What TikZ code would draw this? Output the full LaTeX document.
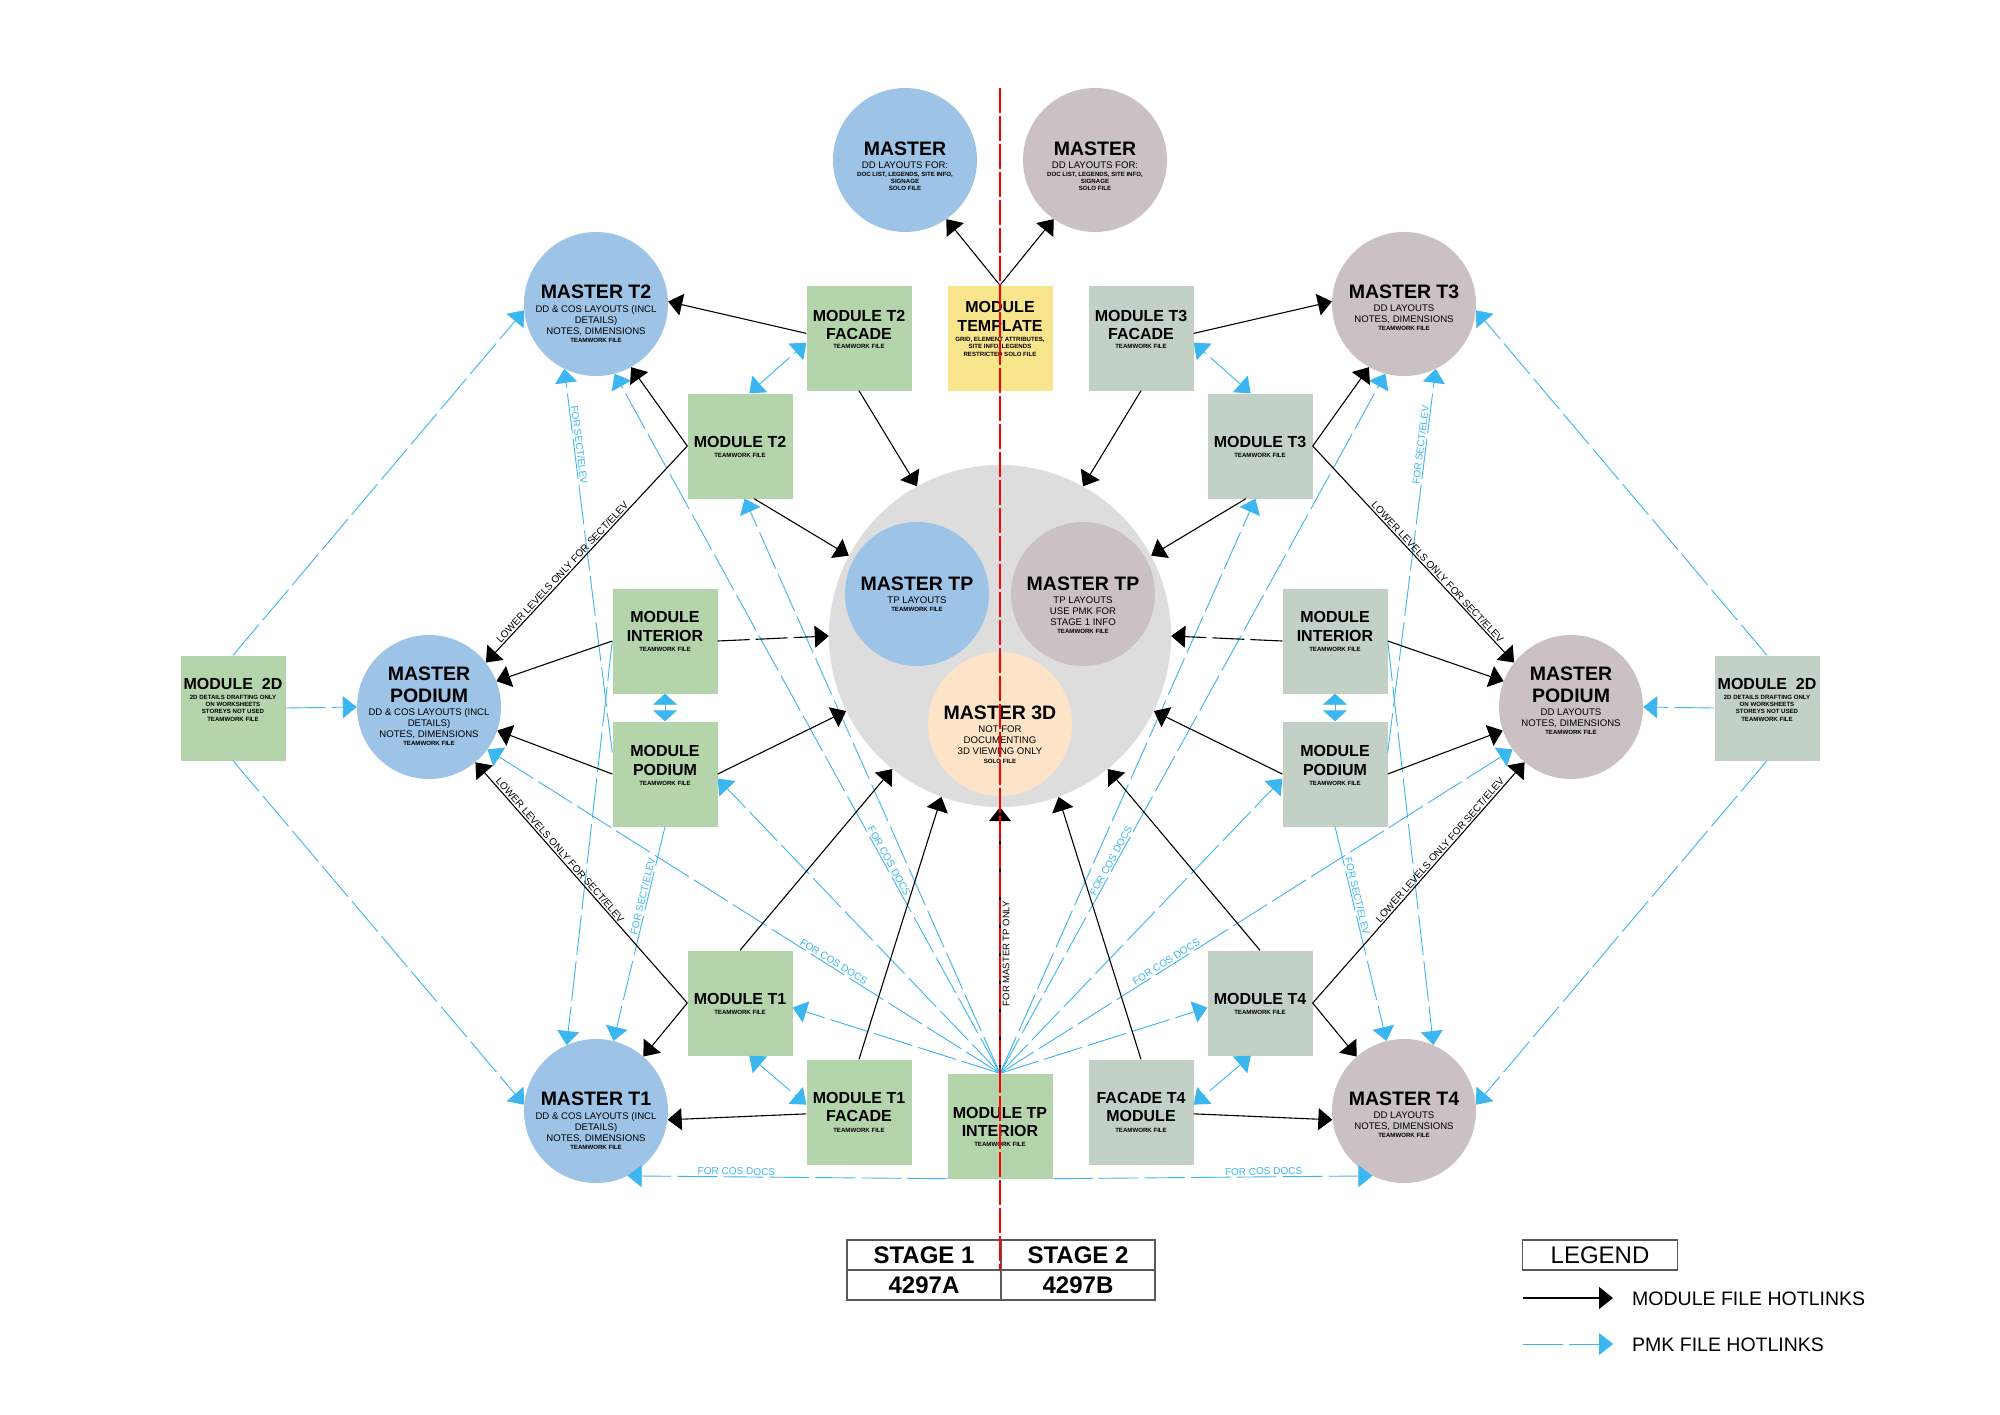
\documentclass[tikz,border=0pt]{standalone}
\usepackage{fontspec}
\setmainfont{Liberation Sans}
\usetikzlibrary{arrows.meta,calc}
\definecolor{cBlue}{RGB}{157,195,230}
\definecolor{cMauve}{RGB}{203,193,197}
\definecolor{cGreen}{RGB}{180,212,172}
\definecolor{cGG}{RGB}{195,208,197}
\definecolor{cYel}{RGB}{249,229,140}
\definecolor{cPeach}{RGB}{253,228,200}
\definecolor{cGray}{RGB}{221,221,221}
\definecolor{pmk}{RGB}{59,182,240}
\newcommand\ptxt[5]{\node[#2] (#1) at ($(#3)+(0,#4)$) {#5};}
\begin{document}
\begin{tikzpicture}[x=1pt,y=-1pt,
  >={Triangle[length=14pt,width=22pt]},
  circ/.style={circle,minimum size=144pt,inner sep=0pt,draw=none},
  boxn/.style={rectangle,minimum width=105pt,minimum height=105pt,inner sep=0pt,draw=none},
  ttl/.style={font=\bfseries\fontsize{19.5}{20}\selectfont,anchor=base,yshift=-7pt,inner sep=0pt,text height=14pt,text depth=0pt},
  subt/.style={font=\fontsize{9.6}{10.5}\selectfont,anchor=base,yshift=-3.4pt,inner sep=0pt,text height=7pt,text depth=1pt},
  tny/.style={font=\bfseries\fontsize{6.1}{6.8}\selectfont,anchor=base,yshift=-2.2pt,inner sep=0pt,text height=4.5pt,text depth=0.3pt},
  btl/.style={font=\bfseries\fontsize{16}{17}\selectfont,anchor=base,yshift=-5.7pt,inner sep=0pt,text height=11.6pt,text depth=0pt},
  blk/.style={draw=black,line width=1.1pt,->},
  blkd/.style={blk,dash pattern=on 32pt off 6pt},
  blu/.style={draw=pmk,line width=0.9pt,dash pattern=on 40pt off 6pt,->},
  bluu/.style={blu,<->},
  bluv/.style={draw=pmk,line width=0.9pt,{Triangle[length=11pt,width=24pt]}-{Triangle[length=11pt,width=24pt]}},
  lbl/.style={font=\fontsize{10}{11}\selectfont,inner sep=1.5pt,sloped,text height=7.2pt,text depth=0pt},
  lblb/.style={lbl,text=pmk},
  cell/.style={draw=black!65,line width=1.2pt,minimum width=154pt,minimum height=30pt,inner sep=0pt,font=\bfseries\fontsize{24}{24}\selectfont},
  legt/.style={font=\fontsize{19.5}{20}\selectfont,anchor=base west,yshift=-7pt,inner sep=0pt}
]
\fill[white] (0,0) rectangle (2000,1414);
\useasboundingbox (0,0) rectangle (2000,1414);

% ---------- circles ----------
\node[circ,fill=cBlue]  (mL)  at (905,160) {};
\node[circ,fill=cMauve] (mR)  at (1095,160) {};
\node[circ,fill=cBlue]  (mT2) at (596,304) {};
\node[circ,fill=cMauve] (mT3) at (1404,304) {};
\node[circ,fill=cBlue]  (mPL) at (429,707) {};
\node[circ,fill=cMauve] (mPR) at (1571,707) {};
\node[circ,fill=cBlue]  (mT1) at (596,1111) {};
\node[circ,fill=cMauve] (mT4) at (1404,1111) {};
\node[circle,minimum size=342pt,inner sep=0pt,fill=cGray] (gc) at (1000,636) {};
\node[circ,fill=cBlue]  (mTPL) at (917,594) {};
\node[circ,fill=cMauve] (mTPR) at (1083,594) {};
\node[circ,fill=cPeach] (m3D)  at (1000,724) {};

% ---------- boxes ----------
\node[boxn,fill=cYel]   (tmpl) at (1000,338) {};
\node[boxn,fill=cGreen] (fT2)  at (859,338) {};
\node[boxn,fill=cGG]    (fT3)  at (1141,338) {};
\node[boxn,fill=cGreen] (T2)   at (740,446) {};
\node[boxn,fill=cGG]    (T3)   at (1260,446) {};
\node[boxn,fill=cGreen] (intL) at (665,641) {};
\node[boxn,fill=cGG]    (intR) at (1335,641) {};
\node[boxn,fill=cGreen] (podL) at (665,774) {};
\node[boxn,fill=cGG]    (podR) at (1335,774) {};
\node[boxn,fill=cGreen] (d2L)  at (233,708) {};
\node[boxn,fill=cGG]    (d2R)  at (1767,708) {};
\node[boxn,fill=cGreen] (T1)   at (740,1003) {};
\node[boxn,fill=cGG]    (T4)   at (1260,1003) {};
\node[boxn,fill=cGreen] (fT1)  at (859,1112) {};
\node[boxn,fill=cGG]    (fT4)  at (1141,1112) {};
\node[boxn,fill=cGreen] (tpi)  at (1000,1126) {};

% ---------- texts in circles ----------
\ptxt{mLa}{ttl}{mL}{-12}{MASTER}
\ptxt{mLb}{subt}{mL}{5}{DD LAYOUTS FOR:}
\ptxt{mLc}{tny}{mL}{14}{DOC LIST, LEGENDS, SITE INFO,}
\ptxt{mLd}{tny}{mL}{21.2}{SIGNAGE}
\ptxt{mLe}{tny}{mL}{28.6}{SOLO FILE}
\ptxt{mRa}{ttl}{mR}{-12}{MASTER}
\ptxt{mRb}{subt}{mR}{5}{DD LAYOUTS FOR:}
\ptxt{mRc}{tny}{mR}{14}{DOC LIST, LEGENDS, SITE INFO,}
\ptxt{mRd}{tny}{mR}{21.2}{SIGNAGE}
\ptxt{mRe}{tny}{mR}{28.6}{SOLO FILE}

\ptxt{mT2a}{ttl}{mT2}{-13}{MASTER T2}
\ptxt{mT2b}{subt}{mT2}{5}{DD \& COS LAYOUTS (INCL}
\ptxt{mT2c}{subt}{mT2}{16}{DETAILS)}
\ptxt{mT2d}{subt}{mT2}{27}{NOTES, DIMENSIONS}
\ptxt{mT2e}{tny}{mT2}{36}{TEAMWORK FILE}
\ptxt{mT1a}{ttl}{mT1}{-13}{MASTER T1}
\ptxt{mT1b}{subt}{mT1}{5}{DD \& COS LAYOUTS (INCL}
\ptxt{mT1c}{subt}{mT1}{16}{DETAILS)}
\ptxt{mT1d}{subt}{mT1}{27}{NOTES, DIMENSIONS}
\ptxt{mT1e}{tny}{mT1}{36}{TEAMWORK FILE}

\ptxt{mT3a}{ttl}{mT3}{-13}{MASTER T3}
\ptxt{mT3b}{subt}{mT3}{4}{DD LAYOUTS}
\ptxt{mT3c}{subt}{mT3}{15}{NOTES, DIMENSIONS}
\ptxt{mT3d}{tny}{mT3}{24}{TEAMWORK FILE}
\ptxt{mT4a}{ttl}{mT4}{-13}{MASTER T4}
\ptxt{mT4b}{subt}{mT4}{4}{DD LAYOUTS}
\ptxt{mT4c}{subt}{mT4}{15}{NOTES, DIMENSIONS}
\ptxt{mT4d}{tny}{mT4}{24}{TEAMWORK FILE}

\ptxt{mPLa}{ttl}{mPL}{-34}{MASTER}
\ptxt{mPLb}{ttl}{mPL}{-12}{PODIUM}
\ptxt{mPLc}{subt}{mPL}{5}{DD \& COS LAYOUTS (INCL}
\ptxt{mPLd}{subt}{mPL}{16}{DETAILS)}
\ptxt{mPLe}{subt}{mPL}{27.2}{NOTES, DIMENSIONS}
\ptxt{mPLf}{tny}{mPL}{36.5}{TEAMWORK FILE}
\ptxt{mPRa}{ttl}{mPR}{-34}{MASTER}
\ptxt{mPRb}{ttl}{mPR}{-12}{PODIUM}
\ptxt{mPRc}{subt}{mPR}{5}{DD LAYOUTS}
\ptxt{mPRd}{subt}{mPR}{16}{NOTES, DIMENSIONS}
\ptxt{mPRe}{tny}{mPR}{25.2}{TEAMWORK FILE}

\ptxt{mTPLa}{ttl}{mTPL}{-11}{MASTER TP}
\ptxt{mTPLb}{subt}{mTPL}{6}{TP LAYOUTS}
\ptxt{mTPLc}{tny}{mTPL}{15.2}{TEAMWORK FILE}
\ptxt{mTPRa}{ttl}{mTPR}{-11}{MASTER TP}
\ptxt{mTPRb}{subt}{mTPR}{6}{TP LAYOUTS}
\ptxt{mTPRc}{subt}{mTPR}{17}{USE PMK FOR}
\ptxt{mTPRd}{subt}{mTPR}{28}{STAGE 1 INFO}
\ptxt{mTPRe}{tny}{mTPR}{37.5}{TEAMWORK FILE}
\ptxt{m3Da}{ttl}{m3D}{-12}{MASTER 3D}
\ptxt{m3Db}{subt}{m3D}{5}{NOT FOR}
\ptxt{m3Dc}{subt}{m3D}{16}{DOCUMENTING}
\ptxt{m3Dd}{subt}{m3D}{27.2}{3D VIEWING ONLY}
\ptxt{m3De}{tny}{m3D}{36.8}{SOLO FILE}

% ---------- texts in boxes ----------
\ptxt{tmpla}{btl}{tmpl}{-31}{MODULE}
\ptxt{tmplb}{btl}{tmpl}{-12}{TEMPLATE}
\ptxt{tmplc}{tny}{tmpl}{1.2}{GRID, ELEMENT ATTRIBUTES,}
\ptxt{tmpld}{tny}{tmpl}{8.6}{SITE INFO, LEGENDS}
\ptxt{tmple}{tny}{tmpl}{16}{RESTRICTED SOLO FILE}
\ptxt{fT2a}{btl}{fT2}{-22.5}{MODULE T2}
\ptxt{fT2b}{btl}{fT2}{-4}{FACADE}
\ptxt{fT2c}{tny}{fT2}{8.6}{TEAMWORK FILE}
\ptxt{fT3a}{btl}{fT3}{-22.5}{MODULE T3}
\ptxt{fT3b}{btl}{fT3}{-4}{FACADE}
\ptxt{fT3c}{tny}{fT3}{8.6}{TEAMWORK FILE}
\ptxt{T2a}{btl}{T2}{-4}{MODULE T2}
\ptxt{T2b}{tny}{T2}{9}{TEAMWORK FILE}
\ptxt{T3a}{btl}{T3}{-4}{MODULE T3}
\ptxt{T3b}{tny}{T3}{9}{TEAMWORK FILE}
\ptxt{intLa}{btl}{intL}{-24}{MODULE}
\ptxt{intLb}{btl}{intL}{-5}{INTERIOR}
\ptxt{intLc}{tny}{intL}{8}{TEAMWORK FILE}
\ptxt{intRa}{btl}{intR}{-24}{MODULE}
\ptxt{intRb}{btl}{intR}{-5}{INTERIOR}
\ptxt{intRc}{tny}{intR}{8}{TEAMWORK FILE}
\ptxt{podLa}{btl}{podL}{-23}{MODULE}
\ptxt{podLb}{btl}{podL}{-4}{PODIUM}
\ptxt{podLc}{tny}{podL}{9}{TEAMWORK FILE}
\ptxt{podRa}{btl}{podR}{-23}{MODULE}
\ptxt{podRb}{btl}{podR}{-4}{PODIUM}
\ptxt{podRc}{tny}{podR}{9}{TEAMWORK FILE}
\ptxt{d2La}{btl}{d2L}{-24}{MODULE\ \ 2D}
\ptxt{d2Lb}{tny}{d2L}{-11}{2D DETAILS DRAFTING ONLY}
\ptxt{d2Lc}{tny}{d2L}{-3.7}{ON WORKSHEETS}
\ptxt{d2Ld}{tny}{d2L}{3.6}{STOREYS NOT USED}
\ptxt{d2Le}{tny}{d2L}{11}{TEAMWORK FILE}
\ptxt{d2Ra}{btl}{d2R}{-24}{MODULE\ \ 2D}
\ptxt{d2Rb}{tny}{d2R}{-11}{2D DETAILS DRAFTING ONLY}
\ptxt{d2Rc}{tny}{d2R}{-3.7}{ON WORKSHEETS}
\ptxt{d2Rd}{tny}{d2R}{3.6}{STOREYS NOT USED}
\ptxt{d2Re}{tny}{d2R}{11}{TEAMWORK FILE}
\ptxt{T1a}{btl}{T1}{-4}{MODULE T1}
\ptxt{T1b}{tny}{T1}{9}{TEAMWORK FILE}
\ptxt{T4a}{btl}{T4}{-4}{MODULE T4}
\ptxt{T4b}{tny}{T4}{9}{TEAMWORK FILE}
\ptxt{fT1a}{btl}{fT1}{-14}{MODULE T1}
\ptxt{fT1b}{btl}{fT1}{4}{FACADE}
\ptxt{fT1c}{tny}{fT1}{18}{TEAMWORK FILE}
\ptxt{fT4a}{btl}{fT4}{-14}{FACADE T4}
\ptxt{fT4b}{btl}{fT4}{4}{MODULE}
\ptxt{fT4c}{tny}{fT4}{18}{TEAMWORK FILE}
\ptxt{tpia}{btl}{tpi}{-13.5}{MODULE TP}
\ptxt{tpib}{btl}{tpi}{5}{INTERIOR}
\ptxt{tpic}{tny}{tpi}{18}{TEAMWORK FILE}

% ---------- PMK (blue) hotlinks ----------
\draw[blu] (d2L.east) -- (mPL.west);
\draw[blu] (d2R.west) -- (mPR.east);
\draw[blu] (d2L.north) -- (mT2.185);
\draw[blu] (d2R.north) -- (mT3.-5);
\draw[blu] (d2L.south) -- (mT1.175);
\draw[blu] (d2R.south) -- (mT4.5);
\draw[bluu] (T2.80) -- (fT2.185);
\draw[bluu] (T3.100) -- (fT3.-5);
\draw[bluu] (T1.-80) -- (fT1.172);
\draw[bluu] (T4.-100) -- (fT4.8);
\draw[bluv] (intL.south) -- (podL.north);
\draw[bluv] (intR.south) -- (podR.north);
\draw[blu] (tpi.north) -- (T1.-5);
\draw[blu] (tpi.north) -- (T4.185);
\draw[blu] (tpi.north) -- node[lblb,pos=0.33,above]{FOR COS DOCS} (mPL.-36);
\draw[blu] (tpi.north) -- node[lblb,pos=0.33,above]{FOR COS DOCS} (mPR.-144);
\draw[blu] (tpi.north) -- node[lblb,pos=0.3,above]{FOR COS DOCS} (mT2.-75);
\draw[blu] (tpi.north) -- node[lblb,pos=0.3,above]{FOR COS DOCS} (mT3.-105);
\draw[blu] (tpi.north) -- (T2.-85);
\draw[blu] (tpi.north) -- (T3.-95);
\draw[blu] (tpi.north) -- (podL.-5);
\draw[blu] (tpi.north) -- (podR.185);
\draw[blu] (tpi.south west) -- node[lblb,pos=0.66,above]{FOR COS DOCS} (mT1.-64);
\draw[blu] (tpi.south east) -- node[lblb,pos=0.66,above]{FOR COS DOCS} (mT4.-116);
\draw[blu] (intL.west) -- (mT1.114);
\draw[blu] (intR.east) -- (mT4.66);
\draw[blu] (podL.158) -- node[lblb,pos=0.8,above]{FOR SECT/ELEV} (mT2.-116);
\draw[blu] (podR.22) -- node[lblb,pos=0.8,above]{FOR SECT/ELEV} (mT3.-64);
\draw[blu] (podL.south) -- node[lblb,pos=0.33,above]{FOR SECT/ELEV} (mT1.76);
\draw[blu] (podR.south) -- node[lblb,pos=0.33,above]{FOR SECT/ELEV} (mT4.104);

% ---------- module (black) hotlinks ----------
\draw[blk] (tmpl.north) -- (mL.-55);
\draw[blk] (tmpl.north) -- (mR.-125);
\draw[blk] (fT2.175) -- (mT2.2);
\draw[blk] (fT3.5) -- (mT3.178);
\draw[blk] (fT2.south) -- (gc.119);
\draw[blk] (fT3.south) -- (gc.61);
\draw[blk] (T2.west) -- (mT2.-61);
\draw[blk] (T3.east) -- (mT3.-119);
\draw[blk] (T2.west) -- node[lbl,pos=0.6,above]{LOWER LEVELS ONLY FOR SECT/ELEV} (mPL.38);
\draw[blk] (T3.east) -- node[lbl,pos=0.6,above]{LOWER LEVELS ONLY FOR SECT/ELEV} (mPR.142);
\draw[blk] (T2.-75) -- (gc.152);
\draw[blk] (T3.-105) -- (gc.28);
\draw[blk] (intL.west) -- (mPL.21);
\draw[blk] (intR.east) -- (mPR.159);
\draw[blkd] (intL.east) -- (gc.180);
\draw[blkd] (intR.west) -- (gc.0);
\draw[blk] (podL.west) -- (mPL.-19);
\draw[blk] (podR.east) -- (mPR.-161);
\draw[blk] (podL.east) -- (gc.206);
\draw[blk] (podR.west) -- (gc.-26);
\draw[blk] (T1.west) -- (mT1.49);
\draw[blk] (T4.east) -- (mT4.131);
\draw[blk] (T1.west) -- node[lbl,pos=0.62,above]{LOWER LEVELS ONLY FOR SECT/ELEV} (mPL.-50);
\draw[blk] (T4.east) -- node[lbl,pos=0.62,above]{LOWER LEVELS ONLY FOR SECT/ELEV} (mPR.-130);
\draw[blk] (T1.north) -- (gc.-129);
\draw[blk] (T4.north) -- (gc.-51);
\draw[blk] (fT1.182) -- (mT1.-7);
\draw[blk] (fT4.-2) -- (mT4.-173);
\draw[blk] (fT1.north) -- (gc.-110);
\draw[blk] (fT4.north) -- (gc.-70);
\draw[blk] (tpi.north) -- node[lbl,pos=0.45,below,font=\fontsize{9.5}{10}\selectfont]{FOR MASTER TP ONLY} (gc.south);

% ---------- stage table ----------
\node[cell] (s1) at (924,1255) {STAGE 1};
\node[cell] (s2) at (1078,1255) {STAGE 2};
\node[cell] (c1) at (924,1285) {4297A};
\node[cell] (c2) at (1078,1285) {4297B};

% ---------- red stage divider ----------
\coordinate (rtop) at (1000,88);
\coordinate (rbot) at (1000,1270);
\draw[red,line width=2.8pt,dash pattern=on 25pt off 3pt] (rtop) -- (rbot);

% ---------- legend ----------
\node[draw=black!65,line width=1.2pt,minimum width=155pt,minimum height=30pt,inner sep=0pt,font=\fontsize{24}{24}\selectfont] (leg) at (1600,1255) {LEGEND};
\coordinate (la1) at (1523,1298);
\coordinate (lb1) at (1613,1298);
\draw[blk] (la1) -- (lb1);
\node[legt] (lt1) at (1632,1298) {MODULE FILE HOTLINKS};
\coordinate (la2) at (1523,1344);
\coordinate (lb2) at (1613,1344);
\draw[blu] (la2) -- (lb2);
\node[legt] (lt2) at (1632,1344) {PMK FILE HOTLINKS};
\end{tikzpicture}
\end{document}
